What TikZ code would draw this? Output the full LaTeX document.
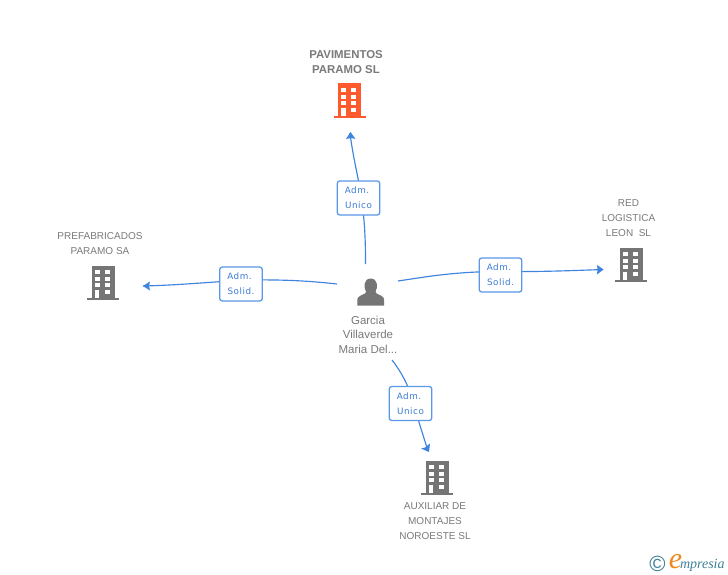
\documentclass[tikz,border=0pt]{standalone}
\usepackage{fontspec}
\setmainfont{Liberation Sans}
\newfontfamily\boxfont[LetterSpace=6]{DejaVu Sans}
\newfontfamily\logofont{Liberation Serif}
\definecolor{txtgrey}{HTML}{7A7A7A}
\definecolor{icongrey}{HTML}{757575}
\definecolor{iconorange}{HTML}{FF5A2D}
\definecolor{linkblue}{HTML}{3F85E0}
\definecolor{boxedge}{HTML}{5C98E8}
\definecolor{boxtext}{HTML}{3A7BD5}
\definecolor{logoteal}{HTML}{3F8197}
\definecolor{logoorange}{HTML}{F08A1D}
\newcommand{\admleft}{\hspace*{-3pt}Adm.}
\tikzset{
  every node/.style={inner sep=0pt,outer sep=0pt},
  lbl/.style={text=txtgrey,align=center,font=\fontsize{10}{15}\selectfont},
  lblbold/.style={text=txtgrey,align=center,font=\fontsize{11.4}{15}\selectfont\bfseries},
  personlbl/.style={text=txtgrey,align=center,font=\fontsize{11.5}{14.6}\selectfont},
  rolebox/.style={draw=boxedge,line width=1.3pt,rounded corners=2.5pt,fill=white,minimum width=42.5pt,minimum height=34pt,text=boxtext,align=center,font=\boxfont\fontsize{8.8}{15}\selectfont},
  link/.style={draw=linkblue,line width=1.15pt},
  tip/.style={fill=linkblue,draw=none},
  pics/tower/.style={code={
    \fill[#1] (-11.5,-16.5) rectangle (11.5,16);
    \fill[#1] (-16,16) rectangle (16,18.2);
    \foreach \yy in {-12,-5.4,1.2}{
      \fill[white] (-8.2,\yy) rectangle (-3.4,\yy+4);
      \fill[white] (1.8,\yy) rectangle (6.6,\yy+4);
    }
    \fill[white] (1.8,7.8) rectangle (6.6,11.8);
    \fill[white] (-8.2,7.8) rectangle (-3.8,16);
  }}
}
\begin{document}
\begin{tikzpicture}[x=1pt,y=-1pt]
\useasboundingbox (0,0) rectangle (728,575);
\fill[white] (0,0) rectangle (728,575);

% named ends of the connectors
\coordinate (pTop) at (365.5,264);
\coordinate (pLeft) at (337,284);
\coordinate (pRight) at (398,281);
\coordinate (pBottom) at (392,360);
\coordinate (aTop) at (350,133);
\coordinate (aLeft) at (143,286);
\coordinate (aRight) at (603,269.5);
\coordinate (aBottom) at (428,451);

% connectors
\draw[link] (pTop) .. controls (365.5,240) and (365,215) .. (358.5,181) .. controls (356,168) and (352,150) .. (aTop);
\draw[link] (pLeft) .. controls (310,281) and (285,279.5) .. (250,280) .. controls (220,281) and (185,285) .. (aLeft);
\draw[link] (pRight) .. controls (425,277) and (455,271.5) .. (500,271.5) .. controls (540,272) and (575,270.5) .. (aRight);
\draw[link] (pBottom) .. controls (402,373) and (408,385) .. (412,398) .. controls (418,420) and (424,438) .. (aBottom);

% arrow heads
\fill[tip] (350.5,132) -- (355.5,139) -- (351,138) -- (346,139) -- cycle;
\fill[tip] (143,286) -- (150,281.5) -- (149,286) -- (150,290.5) -- cycle;
\fill[tip] (603.5,269.5) -- (597,265) -- (597.5,269.5) -- (597,274.5) -- cycle;
\fill[tip] (429,452) -- (421,448.5) -- (425,447.5) -- (430,443.5) -- cycle;

% role boxes
\node[rolebox] (bTop) at (358.5,198) {\admleft\\Unico};
\node[rolebox] (bLeft) at (241,284) {\admleft\\Solid.};
\node[rolebox] (bRight) at (500.5,275) {\admleft\\Solid.};
\node[rolebox] (bBottom) at (410.5,403.5) {\admleft\\Unico};

% buildings
\pic at (349.5,100) {tower=iconorange};
\pic at (103,282) {tower=icongrey};
\pic at (631,264) {tower=icongrey};
\pic at (437,477) {tower=icongrey};

% person
\fill[icongrey] (357.3,305.7) -- (357.3,299.5) .. controls (357.5,296.5) and (361,295.5) .. (365,293.5) -- (366,291.5) .. controls (363.5,288) and (363.5,278.5) .. (370.7,278.5) .. controls (378,278.5) and (378,288) .. (375.5,291.5) -- (376.5,293.5) .. controls (380.5,295.5) and (384,296.5) .. (384,299.5) -- (384,305.7) -- cycle;

% labels
\node[lblbold] (nTop) at (346,62) {PAVIMENTOS\\PARAMO SL};
\node[lbl] (nLeft) at (100,243.5) {PREFABRICADOS\\PARAMO SA};
\node[lbl] (nRight) at (628.5,218) {RED\\LOGISTICA\\LEON\ \ SL};
\node[lbl] (nBottom) at (435,521) {AUXILIAR DE\\MONTAJES\\NOROESTE SL};
\node[personlbl] (nPerson) at (368,334.5) {Garcia\\Villaverde\\Maria Del...};

% logo
\node[text=logoteal,font=\fontsize{22}{22}\selectfont] (copy) at (657.5,564) {©};
\node[text=logoorange,font=\logofont\itshape\fontsize{30}{30}\selectfont] (logoe) at (675.5,562) {e};
\node[text=logoteal,anchor=west,font=\logofont\itshape\fontsize{14}{14}\selectfont] (logot) at (680,565) {mpresia};
\end{tikzpicture}
\end{document}
